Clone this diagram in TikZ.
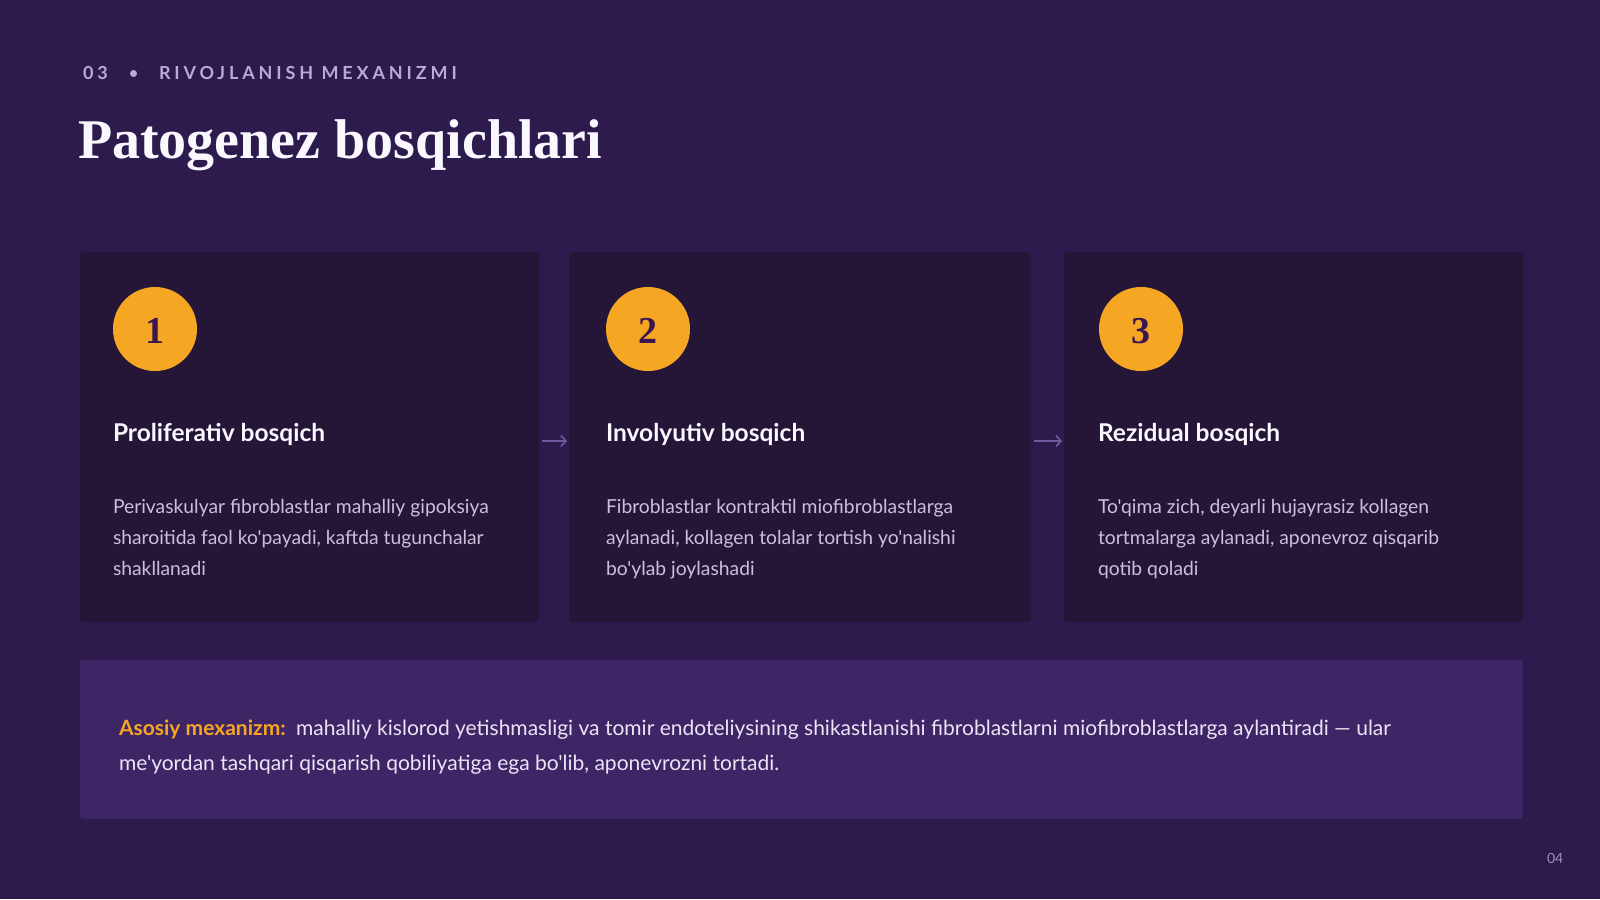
\documentclass[tikz,border=0pt]{standalone}
\usepackage{fontspec}
\setmainfont{Lato}[Ligatures=TeXOff]
\newfontfamily\lato{Lato}[Ligatures=TeXOff]
\newfontfamily\latohdr{Lato}[Ligatures=TeXOff,LetterSpace=21.5]
\newfontfamily\serifb{Liberation Serif}[Ligatures=TeXOff]
\usetikzlibrary{arrows.meta}
\definecolor{bgc}{HTML}{2C1B4C}
\definecolor{cardc}{HTML}{251637}
\definecolor{boxc}{HTML}{3E2566}
\definecolor{orangec}{HTML}{F5A623}
\definecolor{numc}{HTML}{3B1552}
\definecolor{hdrc}{HTML}{B9AAD6}
\definecolor{titlec}{HTML}{FAF7FF}
\definecolor{descc}{HTML}{CBBFDC}
\definecolor{btextc}{HTML}{ECE4F5}
\definecolor{pagec}{HTML}{9D8FBB}
\definecolor{arrc}{HTML}{6F5A9E}
\tikzset{
  txt/.style={anchor=base west, inner sep=0pt, outer sep=0pt},
  hdr/.style={txt, text=hdrc, font=\latohdr\bfseries\fontsize{18}{20}\selectfont},
  hdot/.style={circle, fill=hdrc, minimum size=7pt, inner sep=0pt},
  ttl/.style={txt, text=titlec, font=\serifb\bfseries\fontsize{56}{60}\selectfont},
  card/.style={anchor=north west, fill=cardc, rounded corners=4pt, minimum height=370pt, inner sep=0pt, outer sep=0pt},
  numcirc/.style={circle, fill=orangec, minimum size=84pt, inner sep=0pt, text=numc, text height=29pt, text depth=0pt, font=\serifb\bfseries\fontsize{38}{38}\selectfont},
  stitle/.style={txt, text=titlec, font=\lato\bfseries\fontsize{24.5}{28}\selectfont},
  desc/.style={txt, align=left, text=descc, font=\lato\fontsize{19.3}{31}\selectfont},
  mbox/.style={anchor=north west, fill=boxc, rounded corners=3pt, minimum width=1443pt, minimum height=159pt, inner sep=0pt, outer sep=0pt},
  btext/.style={txt, align=left, text=btextc, font=\lato\fontsize{21}{34.5}\selectfont},
  pagen/.style={txt, text=pagec, font=\lato\fontsize{14}{16}\selectfont},
  arr/.style={draw=arrc, line width=1.6pt, -{Straight Barb[length=5pt,width=11pt]}, shorten <=3pt, shorten >=2pt}
}
\begin{document}
\begin{tikzpicture}[x=1pt,y=-1pt]
\fill[bgc] (0,0) rectangle (1600,899);
\useasboundingbox (0,0) rectangle (1600,899);

% header
\node[hdr] (h1) at (83,80) {03};
\node[hdot] (hd) at (133.5,73.5) {};
\node[hdr] (h2) at (159,80) {RIVOJLANISH MEXANIZMI};
\node[ttl] (ttl) at (78,158) {Patogenez bosqichlari};

% cards
\node[card, minimum width=459pt] (c1) at (80,252) {};
\node[card, minimum width=462pt] (c2) at (569,252) {};
\node[card, minimum width=459pt] (c3) at (1064,252) {};

\node[numcirc] (n1) at (155,329) {1};
\node[numcirc] (n2) at (648,329) {2};
\node[numcirc] (n3) at (1141,329) {3};

\node[stitle] (t1) at (113,441) {Proliferativ bosqich};
\node[stitle] (t2) at (606,441) {Involyutiv bosqich};
\node[stitle] (t3) at (1098,441) {Rezidual bosqich};

\node[desc] (d1) at (113,575) {Perivaskulyar fibroblastlar mahalliy gipoksiya\\sharoitida faol ko'payadi, kaftda tugunchalar\\shakllanadi};
\node[desc] (d2) at (606,575) {Fibroblastlar kontraktil miofibroblastlarga\\aylanadi, kollagen tolalar tortish yo'nalishi\\bo'ylab joylashadi};
\node[desc] (d3) at (1098,575) {To'qima zich, deyarli hujayrasiz kollagen\\tortmalarga aylanadi, aponevroz qisqarib\\qotib qoladi};

\draw[arr] ([yshift=-4pt]c1.east) -- ([yshift=-4pt]c2.west);
\draw[arr] ([yshift=-4pt]c2.east) -- ([yshift=-4pt]c3.west);

% bottom box
\node[mbox] (mb) at (80,660) {};
\node[btext] (bt) at (119,770) {{\color{orangec}\bfseries Asosiy mexanizm:}\hspace{0.5em}mahalliy kislorod yetishmasligi va tomir endoteliysining shikastlanishi fibroblastlarni miofibroblastlarga aylantiradi — ular\\me'yordan tashqari qisqarish qobiliyatiga ega bo'lib, aponevrozni tortadi.};

\node[pagen] (pg) at (1547,863) {04};
\end{tikzpicture}
\end{document}
